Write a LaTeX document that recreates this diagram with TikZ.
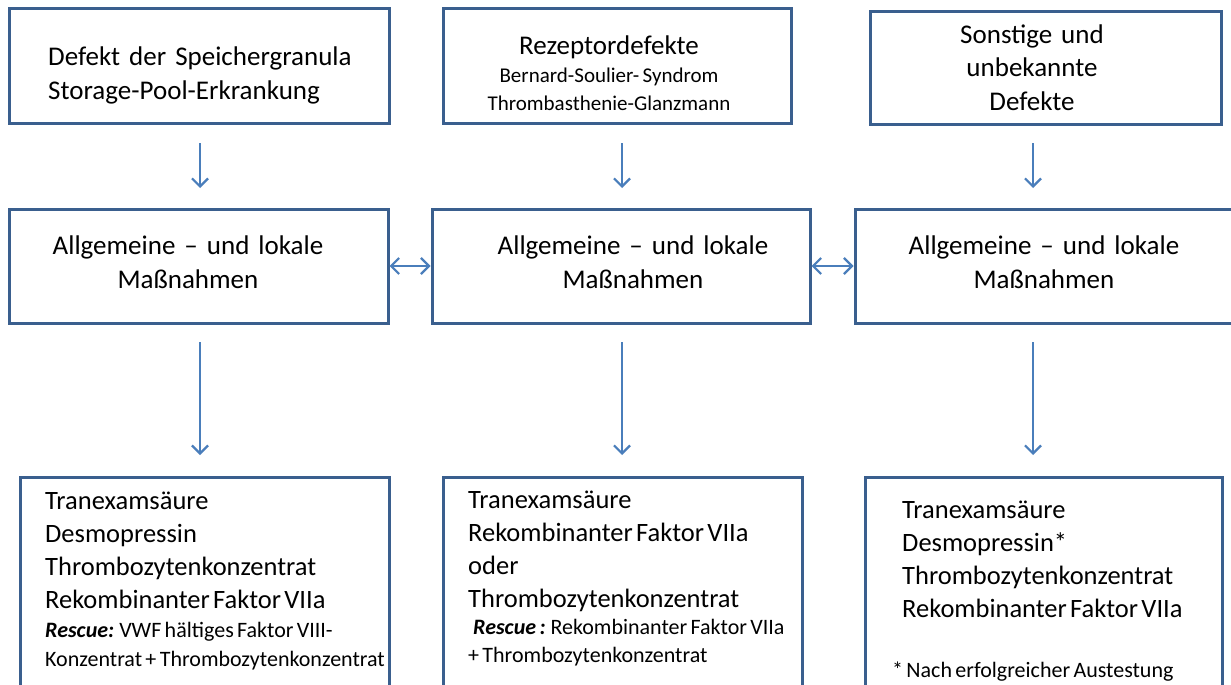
\documentclass[tikz,border=0pt]{standalone}
\usepackage{fontspec}
\setmainfont{Carlito}
\usetikzlibrary{arrows.meta}
\definecolor{boxcol}{HTML}{3A5F8E}
\definecolor{arrcol}{HTML}{4A7EBB}
\tikzset{
  box/.style={draw=boxcol, line width=3pt, rectangle, fill=white, inner sep=0pt},
  txt/.style={inner sep=0pt, text width=380pt},
  big/.style={font=\fontsize{27}{33.5}\selectfont},
  mid/.style={font=\fontsize{27}{34}\selectfont},
  arr/.style={draw=arrcol, line width=2.2pt, -{Straight Barb[length=8pt,width=16pt]}},
  darr/.style={draw=arrcol, line width=2.2pt, {Straight Barb[length=8pt,width=16pt]}-{Straight Barb[length=8pt,width=16pt]}}
}
\begin{document}
\begin{tikzpicture}[x=1pt,y=-1pt]
\useasboundingbox (0,0) rectangle (1231,685);
\clip (0,0) rectangle (1231,685);
\fill[white] (0,0) rectangle (1231,685);
% boxes
\node[box, minimum width=380pt, minimum height=114pt] (b1) at (199,66) {};
\node[box, minimum width=348pt, minimum height=114pt] (b2) at (617,66) {};
\node[box, minimum width=351pt, minimum height=112pt] (b3) at (1045.5,68) {};
\node[box, minimum width=379pt, minimum height=114pt] (b4) at (198.5,266) {};
\node[box, minimum width=378pt, minimum height=114pt] (b5) at (621,266) {};
\node[box, minimum width=405pt, minimum height=114pt] (b6) at (1057.5,266) {};
\node[box, minimum width=369pt, minimum height=243pt] (b7) at (204.5,598.5) {};
\node[box, minimum width=359pt, minimum height=243pt] (b8) at (622.5,598.5) {};
\node[box, minimum width=357pt, minimum height=243pt] (b9) at (1043.5,598.5) {};
% texts
\node[txt, big, align=left, anchor=base west] (t1) at (48,66) {Defekt der Speichergranula\\Storage-Pool-Erkrankung};
\node[txt, align=center, anchor=base] (t2) at (609,55)
  {{\fontsize{27}{33}\selectfont Rezeptordefekte\par}
   {\fontsize{21}{27.5}\selectfont Bernard-Soulier- Syndrom\\Thrombasthenie-Glanzmann\par}};
\node[txt, big, align=center, anchor=base] (t3) at (1032,43.5) {Sonstige und\\unbekannte\\Defekte};
\node[txt, mid, align=center, anchor=base] (t4) at (188,254) {Allgemeine – und lokale\\Maßnahmen};
\node[txt, mid, align=center, anchor=base] (t5) at (633,254) {Allgemeine – und lokale\\Maßnahmen};
\node[txt, mid, align=center, anchor=base] (t6) at (1044,254) {Allgemeine – und lokale\\Maßnahmen};
\node[txt, align=left, anchor=base west] (t7) at (45,509)
  {{\fontsize{26.5}{33}\selectfont Tranexamsäure\\Desmopressin\\Thrombozytenkonzentrat\\Rekombinanter Faktor VIIa\par}
   {\fontsize{22}{29}\selectfont \textbf{\textit{Rescue:}} VWF hältiges Faktor VIII-\\Konzentrat + Thrombozytenkonzentrat\par}};
\node[txt, align=left, anchor=base west] (t8) at (468,508)
  {{\fontsize{26.5}{33}\selectfont Tranexamsäure\\Rekombinanter Faktor VIIa\\oder\\Thrombozytenkonzentrat\par}
   {\fontsize{22}{27.5}\selectfont \hspace*{5pt}\textbf{\textit{Rescue :}} Rekombinanter Faktor VIIa\\+ Thrombozytenkonzentrat\par}};
\node[txt, align=left, anchor=base west] (t9) at (902,518)
  {{\fontsize{26.5}{33}\selectfont Tranexamsäure\\Desmopressin*\\Thrombozytenkonzentrat\\Rekombinanter Faktor VIIa\par}
   {\fontsize{22}{60}\selectfont \hspace*{-10pt}* Nach erfolgreicher Austestung\par}};
% arrow columns
\coordinate (c1) at (200,0);
\coordinate (c2) at (622,0);
\coordinate (c3) at (1033,0);
\draw[arr, shorten <=18.5pt, shorten >=19.5pt] (b1.south -| c1) -- (b4.north -| c1);
\draw[arr, shorten <=18.5pt, shorten >=19.5pt] (b2.south -| c2) -- (b5.north -| c2);
\draw[arr, shorten <=17.5pt, shorten >=19.5pt] (b3.south -| c3) -- (b6.north -| c3);
\draw[arr, shorten <=17.5pt, shorten >=20.5pt] (b4.south -| c1) -- (b7.north -| c1);
\draw[arr, shorten <=17.5pt, shorten >=20.5pt] (b5.south -| c2) -- (b8.north -| c2);
\draw[arr, shorten <=17.5pt, shorten >=20.5pt] (b6.south -| c3) -- (b9.north -| c3);
\draw[darr] (b4.east) -- (b5.west);
\draw[darr] (b5.east) -- (b6.west);
\end{tikzpicture}
\end{document}
